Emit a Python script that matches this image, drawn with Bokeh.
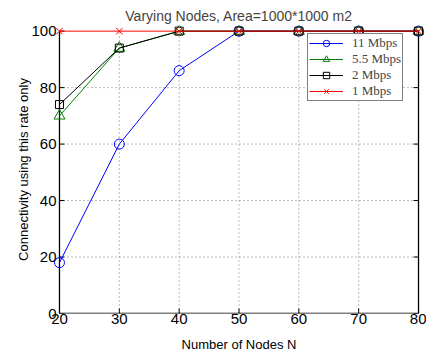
import math
from bokeh.plotting import figure
from bokeh.models import Legend, LegendItem, FixedTicker, Range1d
from bokeh.embed import file_html
from bokeh.resources import INLINE

nodes = [20, 30, 40, 50, 60, 70, 80]
r11 = [18, 60, 86, 100, 100, 100, 100]
r55 = [70, 94, 100, 100, 100, 100, 100]
r2 = [74, 94, 100, 100, 100, 100, 100]
r1 = [100, 100, 100, 100, 100, 100, 100]
x_ticks = [20, 30, 40, 50, 60, 70, 80]
y_ticks = [0, 20, 40, 60, 80, 100]

x_lo, x_hi = x_ticks[0], x_ticks[-1]
y_lo, y_hi = y_ticks[0], y_ticks[-1]

p = figure(width=426, height=354, output_backend="svg", toolbar_location=None,
           x_range=Range1d(x_lo - 1, x_hi + 1), y_range=Range1d(y_lo, y_hi + 2),
           title="Varying Nodes, Area=1000*1000 m2",
           min_border_left=53, min_border_right=2, min_border_top=25, min_border_bottom=41)
p.frame_width = 371
p.frame_height = 288

p.title.align = "center"
p.title.text_font = "Liberation Sans"
p.title.text_font_size = "14px"
p.title.text_font_style = "normal"
p.title.standoff = 4

p.grid.visible = False
p.outline_line_color = None
p.background_fill_color = "white"
p.border_fill_color = "white"

for ax in (p.xaxis[0], p.yaxis[0]):
    ax.major_label_text_font = "Liberation Sans"
    ax.major_label_text_font_size = "15px"
    ax.axis_label_text_font = "Liberation Sans"
    ax.axis_label_text_font_size = "13px"
    ax.axis_label_text_font_style = "normal"
    ax.major_tick_in = 0
    ax.major_tick_out = 0
    ax.minor_tick_in = 0
    ax.minor_tick_out = 0
    ax.axis_line_color = None
    ax.major_tick_line_color = None
    ax.minor_tick_line_color = None
    ax.major_label_text_color = "black"
    ax.axis_label_text_color = "black"

p.xaxis.ticker = FixedTicker(ticks=x_ticks)
p.yaxis.ticker = FixedTicker(ticks=y_ticks)
p.xaxis.axis_label = "Number of Nodes N"
p.yaxis.axis_label = "Connectivity using this rate only"
p.xaxis.major_label_standoff = 0
p.yaxis.major_label_standoff = -3
p.xaxis.axis_label_standoff = 10
p.yaxis.axis_label_standoff = -3

# dotted grid, limited to the data box
gx = x_ticks[1:-1]
p.segment(x0=gx, y0=[y_lo] * len(gx), x1=gx, y1=[y_hi] * len(gx),
          line_color="#777777", line_dash="1 3", line_width=1)
gy = y_ticks[1:-1]
p.segment(x0=[x_lo] * len(gy), y0=gy, x1=[x_hi] * len(gy), y1=gy,
          line_color="#777777", line_dash="1 3", line_width=1)

# box (left, right, bottom) and inward ticks
p.segment(x0=[x_lo, x_hi, x_lo], y0=[y_lo, y_lo, y_lo],
          x1=[x_lo, x_hi, x_hi], y1=[y_hi, y_hi, y_lo],
          line_color="black", line_width=1.3)
p.ray(x=[x_lo] * len(y_ticks), y=y_ticks, length=5, length_units="screen",
      angle=0, line_color="black", line_width=1)
p.ray(x=[x_hi] * len(y_ticks), y=y_ticks, length=5, length_units="screen",
      angle=math.pi, line_color="black", line_width=1)
p.ray(x=x_ticks, y=[y_lo] * len(x_ticks), length=5, length_units="screen",
      angle=math.pi / 2, line_color="black", line_width=1)

l11 = p.line(nodes, r11, color="#0000ff", line_width=1)
m11 = p.scatter(nodes, r11, marker="circle", size=10, fill_color=None, line_color="#0000ff")
l55 = p.line(nodes, r55, color="#008000", line_width=1)
m55 = p.scatter(nodes, r55, marker="triangle", size=11, fill_color=None, line_color="#008000")
l2 = p.line(nodes, r2, color="black", line_width=1)
m2 = p.scatter(nodes, r2, marker="square", size=8, fill_color=None, line_color="black")
l1 = p.line(nodes, r1, color="#ff0000", line_width=1)
m1 = p.scatter(nodes, r1, marker="x", size=9, line_color="#ff0000")

legend = Legend(items=[
    LegendItem(label="11 Mbps", renderers=[l11, m11]),
    LegendItem(label="5.5 Mbps", renderers=[l55, m55]),
    LegendItem(label="2 Mbps", renderers=[l2, m2]),
    LegendItem(label="1 Mbps", renderers=[l1, m1]),
], location=(254, 212))
legend.label_text_font = "Liberation Serif"
legend.label_text_font_size = "13px"
legend.border_line_color = "black"
legend.border_line_width = 1.5
legend.glyph_width = 34
legend.glyph_height = 16
legend.label_height = 16
legend.spacing = 0
legend.padding = 1
legend.margin = 0
legend.label_standoff = 9
p.add_layout(legend)

open("out.html", "w").write(file_html(p, INLINE))
